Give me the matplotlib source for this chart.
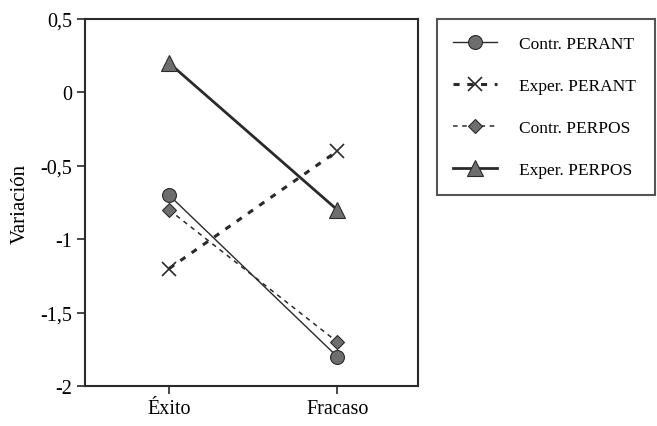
import numpy as np
import matplotlib.pyplot as plt

# data
categories = ['Éxito', 'Fracaso']
contr_perant = [-0.7, -1.8]
exper_perant = [-1.2, -0.4]
contr_perpos = [-0.8, -1.7]
exper_perpos = [0.2, -0.8]
yticks = [0.5, 0, -0.5, -1, -1.5, -2]
ytick_labels = ['0,5', '0', '-0,5', '-1', '-1,5', '-2']

plt.rcParams['font.family'] = ['Liberation Serif', 'DejaVu Serif']

fig = plt.figure(figsize=(6.57, 4.27), dpi=100)
ax = fig.add_axes([0.1294, 0.0937, 0.5068, 0.8595])

x = np.arange(len(categories))
grey = '#6e6e6e'
dark = '#2a2a2a'

ax.plot(x, contr_perant, '-', color=dark, lw=1.0, marker='o', ms=10,
        mfc=grey, mec=dark, mew=0.8, label='Contr. PERANT')
ax.plot(x, exper_perant, '--', color=dark, lw=2.2, dashes=(2, 2.5), marker='x', ms=10,
        mec=dark, mew=1.2, label='Exper. PERANT')
ax.plot(x, contr_perpos, '--', color=dark, lw=1.1, dashes=(3, 3), marker='D', ms=7,
        mfc=grey, mec=dark, mew=0.8, label='Contr. PERPOS')
ax.plot(x, exper_perpos, '-', color=dark, lw=2.0, marker='^', ms=11,
        mfc=grey, mec=dark, mew=0.8, label='Exper. PERPOS')

ax.set_xlim(-0.5, 1.48)
ax.set_ylim(-2, 0.5)
ax.set_xticks(x)
ax.set_xticklabels(categories, fontsize=14.5)
ax.set_yticks(yticks)
ax.set_yticklabels(ytick_labels, fontsize=14.5)
ax.set_ylabel('Variación', fontsize=15, labelpad=7)
ax.tick_params(direction='out', length=6, width=1.2, color=dark, top=False, right=False)
for s in ax.spines.values():
    s.set_linewidth(1.5)
    s.set_color(dark)

handles, labels = ax.get_legend_handles_labels()
leg = fig.legend(handles, labels, loc='upper left',
                 bbox_to_anchor=(0.665, 0.548, 0.332, 0.405), mode='expand',
                 borderaxespad=0, fontsize=12.5, frameon=True, fancybox=False,
                 labelspacing=1.5, handlelength=2.5, borderpad=0.95, handletextpad=1.3)
leg.get_frame().set_edgecolor(dark)
leg.get_frame().set_linewidth(1.5)

fig.savefig('out.png', dpi=100)
